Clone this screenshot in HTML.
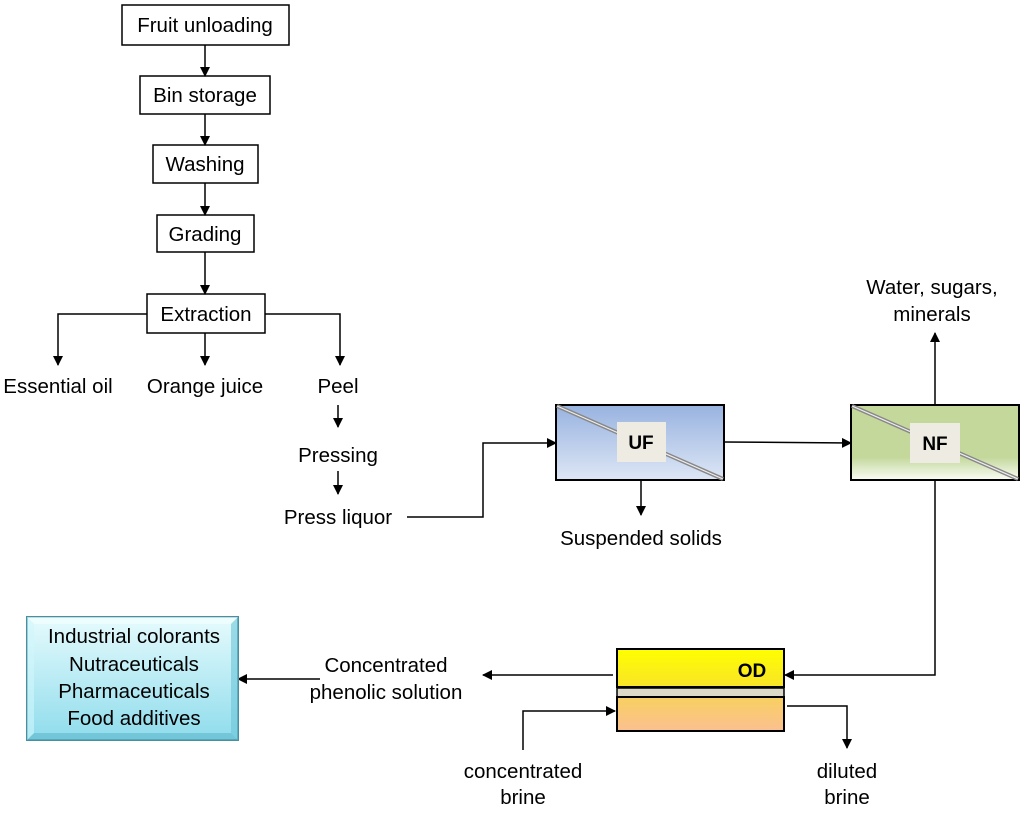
<!DOCTYPE html>
<html><head><meta charset="utf-8"><style>
body{margin:0;background:#fff;}
svg text{font-family:"Liberation Sans",Calibri,sans-serif;font-size:20.5px;fill:#000;text-anchor:middle;}
</style></head><body>
<svg width="1024" height="811" viewBox="0 0 1024 811" xmlns="http://www.w3.org/2000/svg">
<defs>
<marker id="a" markerWidth="10" markerHeight="10" refX="9" refY="5" orient="auto" markerUnits="userSpaceOnUse"><path d="M0,0 L10,5 L0,10 z" fill="#000"/></marker>
<linearGradient id="uf" x1="0" y1="0" x2="0" y2="1"><stop offset="0" stop-color="#98b3e0"/><stop offset="1" stop-color="#dde6f5"/></linearGradient>
<linearGradient id="nf" x1="0" y1="0" x2="0" y2="1"><stop offset="0" stop-color="#c4d89c"/><stop offset="0.7" stop-color="#c4d89c"/><stop offset="1" stop-color="#fbfdf6"/></linearGradient>
<linearGradient id="od1" x1="0" y1="0" x2="0" y2="1"><stop offset="0" stop-color="#ffff00"/><stop offset="1" stop-color="#f8e428"/></linearGradient>
<linearGradient id="od2" x1="0" y1="0" x2="0" y2="1"><stop offset="0" stop-color="#f8d060"/><stop offset="1" stop-color="#fbc090"/></linearGradient>
<linearGradient id="bl" x1="0" y1="0" x2="0" y2="1"><stop offset="0" stop-color="#e6fbfd"/><stop offset="1" stop-color="#8fdcec"/></linearGradient>
</defs>
<g stroke="#000" stroke-width="1.5" fill="#fff">
<rect x="122" y="5" width="167" height="40"/>
<rect x="140" y="76" width="130" height="38"/>
<rect x="153" y="145" width="105" height="38"/>
<rect x="157" y="215" width="97" height="37"/>
<rect x="147" y="294" width="118" height="39"/>
</g>
<g stroke="#000" stroke-width="1.5" fill="none" marker-end="url(#a)">
<line x1="205" y1="45" x2="205" y2="76"/>
<line x1="205" y1="114" x2="205" y2="145"/>
<line x1="205" y1="183" x2="205" y2="215"/>
<line x1="205" y1="252" x2="205" y2="294"/>
<line x1="205" y1="333" x2="205" y2="365"/>
<polyline points="147,314 58,314 58,365"/>
<polyline points="265,314 340,314 340,365"/>
<line x1="338" y1="405" x2="338" y2="427"/>
<line x1="338" y1="471" x2="338" y2="494"/>
<polyline points="407,517 483,517 483,443 556,443"/>
<line x1="724" y1="442" x2="851" y2="443"/>
<line x1="935" y1="405" x2="935" y2="333"/>
<line x1="641" y1="480" x2="641" y2="515"/>
<polyline points="935,480 935,675 785,675"/>
<line x1="613" y1="675" x2="483" y2="675"/>
<line x1="320" y1="679" x2="238" y2="679"/>
<polyline points="523,750 523,711 615,711"/>
<polyline points="787,706 847,706 847,748"/>
</g>
<text x="205" y="32">Fruit unloading</text>
<text x="205" y="102">Bin storage</text>
<text x="205" y="171">Washing</text>
<text x="205" y="241">Grading</text>
<text x="206" y="321">Extraction</text>
<text x="58" y="393">Essential oil</text>
<text x="205" y="393">Orange juice</text>
<text x="338" y="393">Peel</text>
<text x="338" y="462">Pressing</text>
<text x="338" y="524">Press liquor</text>
<text x="932" y="294">Water, sugars,</text>
<text x="932" y="321">minerals</text>
<text x="641" y="545">Suspended solids</text>
<text x="386" y="672">Concentrated</text>
<text x="386" y="699">phenolic solution</text>
<text x="523" y="778">concentrated</text>
<text x="523" y="804">brine</text>
<text x="847" y="778">diluted</text>
<text x="847" y="804">brine</text>
<rect x="556" y="405" width="168" height="75" fill="url(#uf)" stroke="#000" stroke-width="2"/>
<line x1="557" y1="406" x2="723" y2="479" stroke="#888" stroke-width="4"/>
<line x1="557" y1="406" x2="723" y2="479" stroke="#eee" stroke-width="1.2"/>
<rect x="617" y="422" width="49" height="40" fill="#edebe2"/>
<text x="641" y="449" style="font-weight:bold;font-size:19px">UF</text>
<rect x="851" y="405" width="168" height="75" fill="url(#nf)" stroke="#000" stroke-width="2"/>
<line x1="852" y1="406" x2="1018" y2="479" stroke="#888" stroke-width="4"/>
<line x1="852" y1="406" x2="1018" y2="479" stroke="#eee" stroke-width="1.2"/>
<rect x="910" y="423" width="50" height="40" fill="#edebe2"/>
<text x="935" y="450" style="font-weight:bold;font-size:19px">NF</text>
<rect x="617" y="649" width="167" height="38" fill="url(#od1)" stroke="#000" stroke-width="2"/>
<rect x="617" y="688" width="167" height="9" fill="#ddd9c8" stroke="#000" stroke-width="1.5"/>
<rect x="617" y="697" width="167" height="34" fill="url(#od2)" stroke="#000" stroke-width="2"/>
<text x="752" y="677" style="font-weight:bold;font-size:19px">OD</text>
<rect x="27" y="617" width="211" height="123" fill="url(#bl)" stroke="#4a8fa0" stroke-width="2"/>
<polygon points="27,617 238,617 231,624 34,624" fill="#f2feff" opacity="0.7"/>
<polygon points="27,740 238,740 231,733 34,733" fill="#5fb8cc" opacity="0.6"/>
<polygon points="238,617 238,740 231,733 231,624" fill="#6cc4d8" opacity="0.6"/>
<polygon points="27,617 27,740 34,733 34,624" fill="#d0f6fb" opacity="0.6"/>
<text x="134" y="643">Industrial colorants</text>
<text x="134" y="671">Nutraceuticals</text>
<text x="134" y="698">Pharmaceuticals</text>
<text x="134" y="725">Food additives</text>
</svg>
</body></html>
